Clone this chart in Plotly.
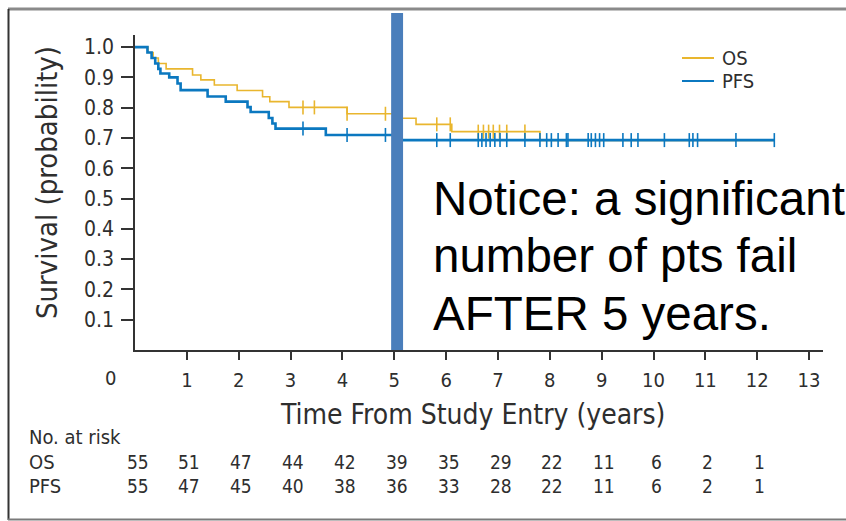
import plotly.graph_objects as go

# ---------------- data ----------------
# Kaplan-Meier step functions (time in years, survival probability)
os_times = [0, 0.25, 0.35, 0.45, 0.60, 1.11, 1.27, 1.53, 1.97, 2.46, 2.60, 2.97, 4.09, 5.00, 5.42, 6.11, 7.81]
os_surv = [1.0, 0.982, 0.964, 0.946, 0.928, 0.908, 0.892, 0.875, 0.857, 0.836, 0.820, 0.801, 0.780, 0.765, 0.745, 0.721, 0.692]
os_end = 12.33
os_censor = [3.24, 3.46, 4.09, 4.83, 5.82, 6.08, 6.62, 6.72, 6.82, 6.91, 7.03, 7.17, 7.52]

pfs_times = [0, 0.24, 0.32, 0.39, 0.45, 0.49, 0.66, 0.82, 0.88, 1.40, 1.75, 2.17, 2.23, 2.58, 2.65, 2.71, 3.68, 5.00]
pfs_surv = [1.0, 0.982, 0.964, 0.946, 0.928, 0.913, 0.900, 0.880, 0.858, 0.837, 0.820, 0.802, 0.786, 0.766, 0.748, 0.731, 0.710, 0.693]
pfs_end = 12.33
pfs_censor = [3.24, 4.09, 4.83, 5.82, 6.08, 6.62, 6.69, 6.77, 6.85, 6.94, 7.04, 7.17, 7.52, 7.81,
              7.94, 8.03, 8.16, 8.32, 8.35, 8.74, 8.80, 8.88, 8.96, 9.04, 9.41, 9.57, 9.70,
              10.21, 10.69, 10.76, 10.85, 11.59, 12.33]

risk_times = [0, 1, 2, 3, 4, 5, 6, 7, 8, 9, 10, 11, 12]
os_risk = [55, 51, 47, 44, 42, 39, 35, 29, 22, 11, 6, 2, 1]
pfs_risk = [55, 47, 45, 40, 38, 36, 33, 28, 22, 11, 6, 2, 1]

y_ticks = [0.1, 0.2, 0.3, 0.4, 0.5, 0.6, 0.7, 0.8, 0.9, 1.0]
x_ticks = [1, 2, 3, 4, 5, 6, 7, 8, 9, 10, 11, 12, 13]

series_names = ["OS", "PFS"]
notice_lines = ["Notice: a significant", "number of pts fail", "AFTER 5 years."]

# ---------------- styling ----------------
W, H = 846, 521
L, R, T, B = 135, 23, 35, 171
PW, PH = W - L - R, H - T - B
X_MAX = PW / 51.85
Y_MAX = 1.04

OS_COLOR = "#E9B62E"
PFS_COLOR = "#0B78C0"
BAR_COLOR = "#4A7EBB"
TXT = "#2e2e2e"
COND = "Liberation Sans Narrow, DejaVu Sans Condensed, Roboto Condensed, Arial Narrow, Liberation Sans, sans-serif"
ARIAL = "Liberation Sans, Arial, sans-serif"


def px(x):
    return (x - L) / PW


def py(y):
    return (H - B - y) / PH


def step_value(times, surv, t):
    v = surv[0]
    for tt, s in zip(times, surv):
        if tt <= t:
            v = s
    return v


fig = go.Figure()

for times, surv, end, cens, color, width in [
    (os_times, os_surv, os_end, os_censor, OS_COLOR, 1.6),
    (pfs_times, pfs_surv, pfs_end, pfs_censor, PFS_COLOR, 2.6),
]:
    fig.add_trace(go.Scatter(
        x=times + [end], y=surv + [surv[-1]], mode="lines",
        line=dict(color=color, width=width, shape="hv"),
        showlegend=False, hoverinfo="skip"))
    fig.add_trace(go.Scatter(
        x=cens, y=[step_value(times, surv, c) for c in cens], mode="markers",
        marker=dict(symbol="line-ns", size=10, line=dict(color=color, width=1.6)),
        showlegend=False, hoverinfo="skip"))

shapes = [
    # vertical highlight bar at 5 years
    dict(type="rect", xref="x", yref="paper", x0=4.94, x1=5.17, y0=0, y1=py(13),
         fillcolor=BAR_COLOR, line=dict(width=0), layer="above"),
    # outer frame
    dict(type="line", xref="paper", yref="paper", x0=px(8), x1=px(846), y0=py(9), y1=py(9),
         line=dict(color="#8a8a8a", width=3)),
    dict(type="line", xref="paper", yref="paper", x0=px(8.5), x1=px(8.5), y0=py(9), y1=py(520),
         line=dict(color="#333333", width=2)),
    dict(type="line", xref="paper", yref="paper", x0=px(8), x1=px(846), y0=py(519.5), y1=py(519.5),
         line=dict(color="#7a7a7a", width=2)),
    # legend lines
    dict(type="line", xref="paper", yref="paper", x0=px(682), x1=px(714), y0=py(58), y1=py(58),
         line=dict(color=OS_COLOR, width=2)),
    dict(type="line", xref="paper", yref="paper", x0=px(682), x1=px(714), y0=py(81), y1=py(81),
         line=dict(color=PFS_COLOR, width=2)),
]

ann = []
# legend text
for name, yy in zip(series_names, [58, 81]):
    ann.append(dict(text=name, xref="paper", yref="paper", x=px(720), y=py(yy),
                    xanchor="left", yanchor="middle", showarrow=False,
                    font=dict(family=COND, size=20, color=TXT)))
# "0" tick label offset left of the axis
ann.append(dict(text="0", xref="paper", yref="paper", x=px(110), y=py(378),
                xanchor="center", yanchor="middle", showarrow=False,
                font=dict(family=COND, size=20, color=TXT)))
# axis titles
ann.append(dict(text="Survival (probability)", xref="paper", yref="paper", x=px(47), y=py(183),
                xanchor="center", yanchor="middle", textangle=-90, showarrow=False,
                font=dict(family=COND, size=29, color=TXT)))
ann.append(dict(text="Time From Study Entry (years)", xref="paper", yref="paper", x=px(472), y=py(414),
                xanchor="center", yanchor="middle", showarrow=False,
                font=dict(family=COND, size=28, color=TXT)))
# number at risk table
ann.append(dict(text="No. at risk", xref="paper", yref="paper", x=px(27), y=py(437),
                xanchor="left", yanchor="middle", showarrow=False,
                font=dict(family=COND, size=20, color=TXT)))
for name, vals, yy in [("OS", os_risk, 462), ("PFS", pfs_risk, 486)]:
    ann.append(dict(text=name, xref="paper", yref="paper", x=px(27), y=py(yy),
                    xanchor="left", yanchor="middle", showarrow=False,
                    font=dict(family=COND, size=20, color=TXT)))
    for t, v in zip(risk_times, vals):
        ann.append(dict(text=str(v), xref="x", yref="paper", x=t + 0.05, y=py(yy),
                        xanchor="center", yanchor="middle", showarrow=False,
                        font=dict(family=COND, size=19, color=TXT)))
# notice text
for line, yy in zip(notice_lines, [199, 256, 313]):
    ann.append(dict(text=line, xref="paper", yref="paper", x=px(431), y=py(yy),
                    xanchor="left", yanchor="middle", showarrow=False,
                    font=dict(family=ARIAL, size=47.5, color="#000000")))

fig.update_layout(
    width=W, height=H,
    margin=dict(l=L, r=R, t=T, b=B, pad=0),
    paper_bgcolor="white", plot_bgcolor="white",
    shapes=shapes, annotations=ann,
    xaxis=dict(range=[0, X_MAX], tickvals=x_ticks, ticks="outside", ticklen=8, tickwidth=1.5,
               tickcolor="#333333", showline=True, linecolor="#333333", linewidth=1.5,
               showgrid=False, zeroline=False, ticklabelstandoff=3,
               tickfont=dict(family=COND, size=20, color=TXT)),
    yaxis=dict(range=[0, Y_MAX], tickvals=y_ticks, ticktext=[f"{v:.1f}" for v in y_ticks],
               ticks="outside", ticklen=12, tickwidth=1.5, tickcolor="#333333",
               showline=True, linecolor="#333333", linewidth=1.5,
               showgrid=False, zeroline=False, ticklabelstandoff=3,
               tickfont=dict(family=COND, size=21, color=TXT)),
    showlegend=False,
)

fig.write_html("out.html")
